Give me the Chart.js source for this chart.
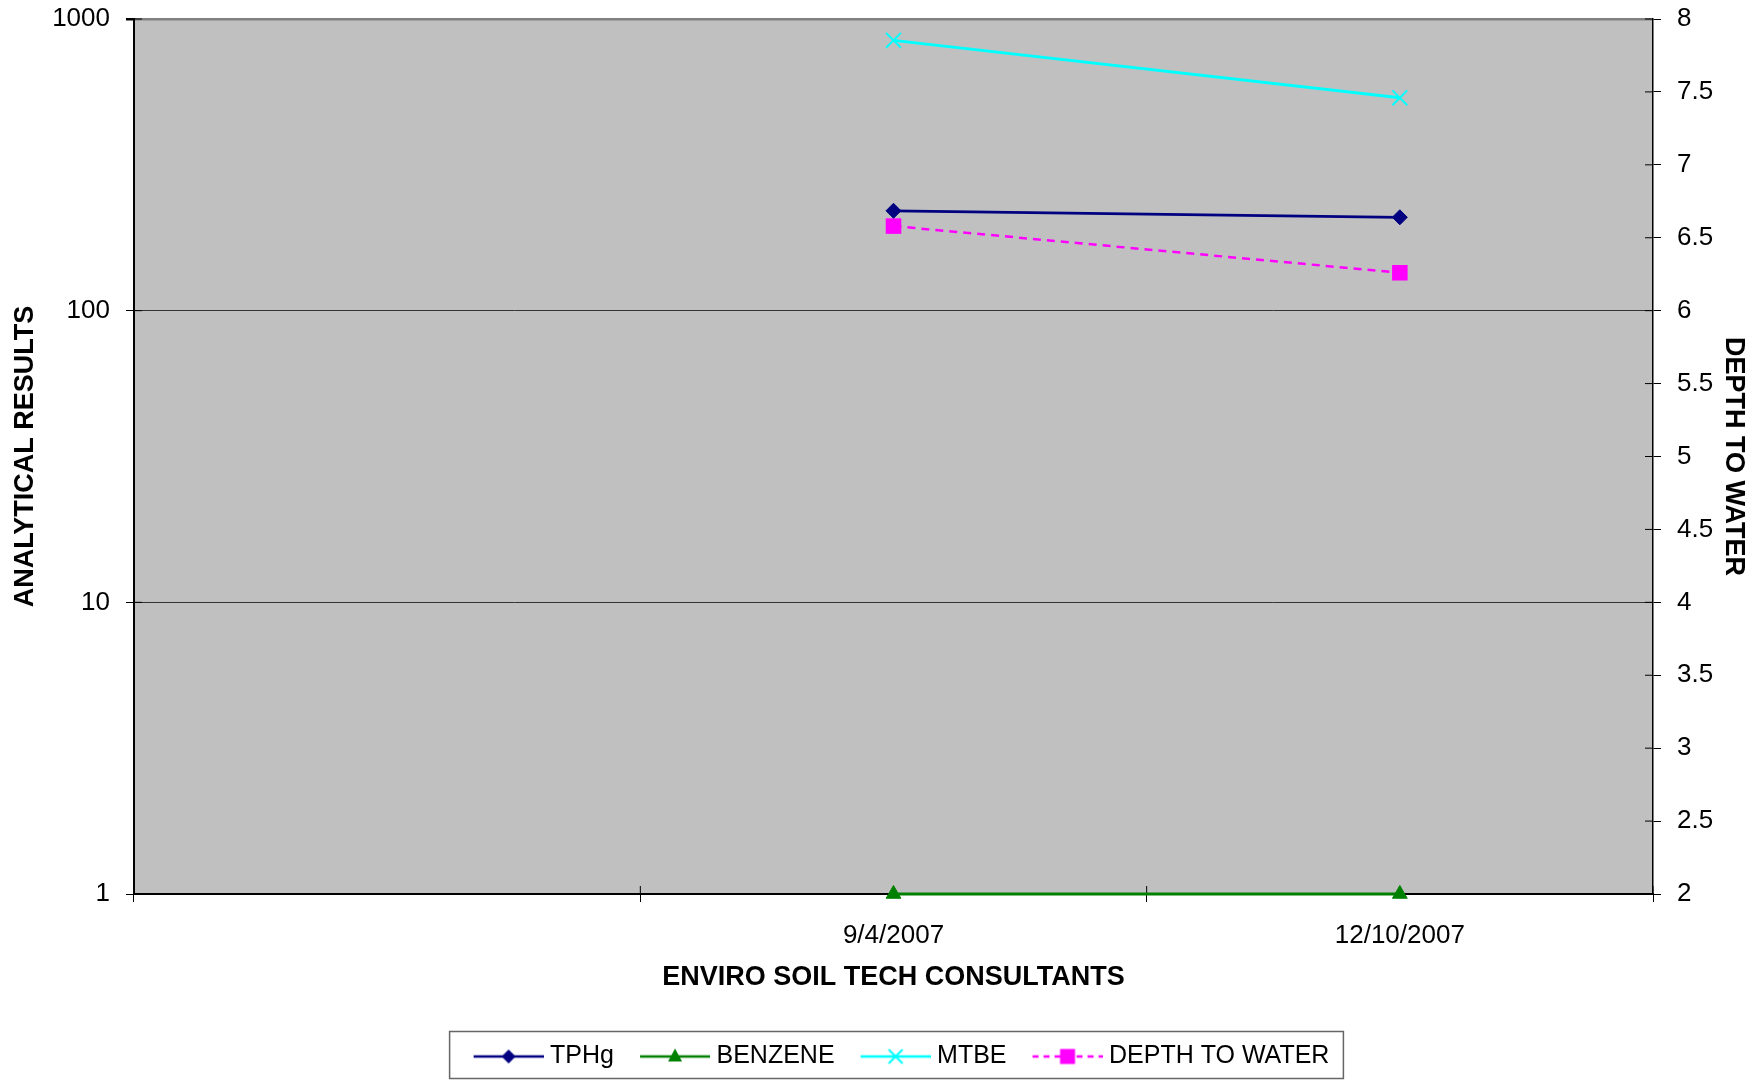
<!DOCTYPE html>
<html>
<head>
<meta charset="utf-8">
<script src="https://cdn.jsdelivr.net/npm/chart.js@4/dist/chart.umd.min.js"></script>
<style>
  html, body { margin: 0; padding: 0; background: #fff; }
  #wrap { width: 1759px; height: 1081px; }
</style>
</head>
<body>
<div id="wrap"><canvas id="chart" width="1759" height="1081"></canvas></div>
<script>
/* ====== DATA ====== */
const dates = ['', '9/4/2007', '12/10/2007'];
const tphg = [null, 220, 209];
const benzene = [null, 1, 1];
const mtbe = [null, 845, 537];
const depthToWater = [null, 6.58, 6.26];
const leftTicks = [1, 10, 100, 1000];
const rightTicks = [2, 2.5, 3, 3.5, 4, 4.5, 5, 5.5, 6, 6.5, 7, 7.5, 8];

const FONT = "'Liberation Sans', Arial, sans-serif";

/* ====== LEGEND SWATCHES (line with marker, Excel style) ====== */
function swatch(color, dash, shape) {
    const c = document.createElement('canvas');
    c.width = 92;
    c.height = 24;
    const g = c.getContext('2d');
    g.strokeStyle = color;
    g.lineWidth = 2.5;
    g.setLineDash(dash);
    g.beginPath();
    g.moveTo(22, 12);
    g.lineTo(92, 12);
    g.stroke();
    g.setLineDash([]);

    const x = 57, y = 12;
    g.fillStyle = color;
    g.beginPath();
    if (shape === 'diamond') {
        g.moveTo(x - 7, y); g.lineTo(x, y - 7); g.lineTo(x + 7, y); g.lineTo(x, y + 7);
        g.closePath(); g.fill();
    } else if (shape === 'triangle') {
        g.moveTo(x, y - 8); g.lineTo(x + 7, y + 5); g.lineTo(x - 7, y + 5);
        g.closePath(); g.fill();
    } else if (shape === 'x') {
        g.lineWidth = 2;
        g.moveTo(x - 7, y - 7); g.lineTo(x + 7, y + 7);
        g.moveTo(x + 7, y - 7); g.lineTo(x - 7, y + 7);
        g.stroke();
    } else {
        g.fillRect(x - 7.5, y - 7.5, 15, 15);
    }
    return c;
}

const swatches = [
    swatch('#000080', [], 'diamond'),
    swatch('#008000', [], 'triangle'),
    swatch('#00FFFF', [], 'x'),
    swatch('#FF00FF', [6, 5], 'square')
];

/* ====== PLUGINS ====== */
const plotBackground = {
    id: 'plotBackground',
    beforeDraw(chart) {
        const { ctx, chartArea: a } = chart;
        ctx.save();
        ctx.fillStyle = '#C0C0C0';
        ctx.fillRect(a.left, a.top, a.right - a.left, a.bottom - a.top);
        ctx.restore();
    }
};

// tick marks that cross the axis lines (the inner half)
const innerTicks = {
    id: 'innerTicks',
    beforeDatasetsDraw(chart) {
        const { ctx, chartArea: a, scales } = chart;
        ctx.save();
        ctx.strokeStyle = '#000';
        ctx.lineWidth = 1;
        ctx.beginPath();
        scales.y.ticks.forEach(t => {
            const y = scales.y.getPixelForValue(t.value);
            ctx.moveTo(a.left, y); ctx.lineTo(a.left + 8, y);
        });
        scales.y2.ticks.forEach(t => {
            const y = scales.y2.getPixelForValue(t.value);
            ctx.moveTo(a.right - 8, y); ctx.lineTo(a.right, y);
        });
        for (let i = 0; i <= dates.length; i++) {
            const x = scales.x.getPixelForValue(i - 0.5);
            ctx.moveTo(x, a.bottom - 8); ctx.lineTo(x, a.bottom);
        }
        ctx.stroke();
        ctx.restore();
    }
};

const legendFrame = {
    id: 'legendFrame',
    afterDraw(chart) {
        const lg = chart.legend;
        const boxes = lg && lg.legendHitBoxes;
        if (!boxes || !boxes.length) return;
        const left = Math.min(...boxes.map(b => b.left)) - 8;
        const right = Math.max(...boxes.map(b => b.left + b.width)) + 14;
        const { ctx } = chart;
        ctx.save();
        ctx.strokeStyle = '#666';
        ctx.lineWidth = 1.5;
        ctx.strokeRect(left, lg.top - 2.5, right - left, 47);
        ctx.restore();
    }
};

// keep the plot area tight to the top: only half a label above the first tick
const trimPad = s => { s.paddingTop = 15; s.paddingBottom = 15; };

/* ====== CHART ====== */
const ctx = document.getElementById('chart').getContext('2d');

new Chart(ctx, {
    type: 'line',
    data: {
        labels: dates,
        datasets: [
            {
                label: 'TPHg',
                data: tphg,
                yAxisID: 'y',
                borderColor: '#000080',
                backgroundColor: '#000080',
                borderWidth: 2.8,
                pointStyle: 'rectRot',
                pointRadius: 7.5,
                pointBorderWidth: 1
            },
            {
                label: 'BENZENE',
                data: benzene,
                yAxisID: 'y',
                borderColor: '#008000',
                backgroundColor: '#008000',
                borderWidth: 3,
                pointStyle: 'triangle',
                pointRadius: 8.5,
                pointBorderWidth: 1
            },
            {
                label: 'MTBE',
                data: mtbe,
                yAxisID: 'y',
                borderColor: '#00FFFF',
                backgroundColor: '#00FFFF',
                borderWidth: 2.8,
                pointStyle: 'crossRot',
                pointRadius: 10.5,
                pointBorderWidth: 2
            },
            {
                label: 'DEPTH TO WATER',
                data: depthToWater,
                yAxisID: 'y2',
                borderColor: '#FF00FF',
                backgroundColor: '#FF00FF',
                borderWidth: 2.5,
                borderDash: [8, 6],
                pointStyle: 'rect',
                pointRadius: 11,
                pointBorderWidth: 0
            }
        ].map(d => Object.assign({ tension: 0, fill: false, clip: false }, d))
    },
    options: {
        responsive: false,
        animation: false,
        layout: { padding: { top: 19, left: 0, right: 0, bottom: 2 } },
        scales: {
            x: {
                type: 'category',
                offset: true,
                grid: { offset: true, drawOnChartArea: false, tickLength: 8, tickColor: '#000' },
                border: { color: '#000', width: 2 },
                ticks: { color: '#000', font: { family: FONT, size: 26 }, padding: 18, maxRotation: 0, autoSkip: false },
                title: {
                    display: true,
                    text: 'ENVIRO SOIL TECH CONSULTANTS',
                    color: '#000',
                    font: { family: FONT, size: 27, weight: 'bold' },
                    padding: { top: 10, bottom: 40 }
                },
                afterFit: s => { s.height = 140; }
            },
            y: {
                type: 'logarithmic',
                position: 'left',
                min: 1,
                max: 1000,
                afterBuildTicks: s => { s.ticks = leftTicks.map(v => ({ value: v })); },
                grid: {
                    color: c => c.tick && c.tick.value === 1000 ? '#808080' : (c.tick && c.tick.value === 1 ? '#000' : '#333'),
                    lineWidth: c => c.tick && c.tick.value === 1000 ? 2.5 : 1,
                    tickColor: '#000',
                    tickLength: 8
                },
                border: { color: '#000', width: 2 },
                ticks: {
                    color: '#000',
                    font: { family: FONT, size: 26 },
                    padding: 16,
                    autoSkip: false,
                    callback: v => String(v)
                },
                title: {
                    display: true,
                    text: 'ANALYTICAL RESULTS',
                    color: '#000',
                    font: { family: FONT, size: 27, weight: 'bold' },
                    padding: 9
                },
                afterFit: s => { s.width = 134; trimPad(s); }
            },
            y2: {
                type: 'linear',
                position: 'right',
                min: 2,
                max: 8,
                afterBuildTicks: s => { s.ticks = rightTicks.map(v => ({ value: v })); },
                grid: { drawOnChartArea: false, tickColor: '#000', tickLength: 8 },
                border: { color: '#000', width: 1.5 },
                ticks: {
                    color: '#000',
                    font: { family: FONT, size: 26 },
                    padding: 16,
                    autoSkip: false,
                    callback: v => String(v)
                },
                title: {
                    display: true,
                    text: 'DEPTH TO WATER',
                    color: '#000',
                    font: { family: FONT, size: 27, weight: 'bold' },
                    padding: 9
                },
                afterFit: s => { s.width = 106; trimPad(s); }
            }
        },
        plugins: {
            legend: {
                position: 'bottom',
                fullSize: false,
                labels: {
                    usePointStyle: true,
                    pointStyleWidth: 80,
                    padding: 10,
                    color: '#000',
                    font: { family: FONT, size: 25 },
                    generateLabels(chart) {
                        const items = Chart.defaults.plugins.legend.labels.generateLabels(chart);
                        items.forEach((it, i) => { it.pointStyle = swatches[i]; });
                        return items;
                    }
                }
            },
            tooltip: { enabled: false }
        }
    },
    plugins: [plotBackground, innerTicks, legendFrame]
});
</script>
</body>
</html>
